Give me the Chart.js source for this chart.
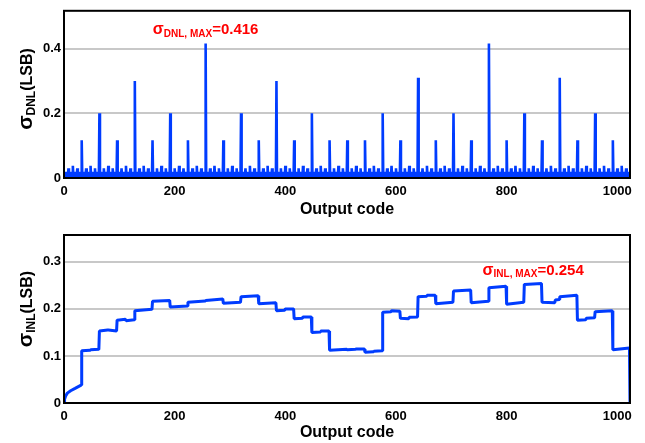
<!DOCTYPE html>
<html>
<head>
<meta charset="utf-8">
<script src="https://cdn.jsdelivr.net/npm/chart.js@4"></script>
<style>
    body { margin: 0; background: #fff; }
    canvas { position: absolute; left: 0; }
</style>
</head>
<body>
<canvas id="dnlChart" width="645" height="220" style="top:0;"></canvas>
<canvas id="inlChart" width="645" height="223" style="top:220px;"></canvas>
<script>
// ---- data ----
const codeTicks = [0, 200, 400, 600, 800, 1000];
const dnlTicks = [0, 0.2, 0.4];
const inlTicks = [0, 0.1, 0.2, 0.3];

// DNL inside one 32-code cell (offset 0 = cell boundary, taken from dnlSpikes)
const dnlCellPattern = [0.004, 0.004, 0.011, 0.004, 0.019, 0.004, 0.011, 0.004,
                        0.030, 0.004, 0.011, 0.004, 0.019, 0.004, 0.011, 0.004,
                        0.038, 0.004, 0.011, 0.004, 0.019, 0.004, 0.011, 0.004,
                        0.030, 0.004, 0.011, 0.004, 0.019, 0.004, 0.011, 0.004];
const dnlSpikeCodes = [32, 64, 96, 128, 160, 192, 224, 256, 288, 320, 352, 384, 416, 448, 480, 512,
                       544, 576, 608, 640, 672, 704, 736, 768, 800, 832, 864, 896, 928, 960, 992];
const dnlSpikeValues = [0.117, 0.200, 0.117, 0.300, 0.117, 0.200, 0.117, 0.416, 0.117, 0.200, 0.117, 0.300, 0.117, 0.200, 0.117, 0.117,
                        0.117, 0.200, 0.117, 0.310, 0.117, 0.200, 0.117, 0.416, 0.117, 0.200, 0.117, 0.310, 0.117, 0.200, 0.117];
const dnlMax = { code: 256, value: 0.416 };

// INL step curve, corner points
const inlCodes = [0, 1, 3, 6, 12, 20, 31, 32, 47, 48, 63, 64, 79, 80, 95, 96, 111, 112, 127,
                  128, 159, 160, 191, 192, 223, 224, 255, 256, 287, 288, 319, 320, 351, 352, 383,
                  384, 399, 400, 415, 416, 431, 432, 447, 448, 463, 464, 479, 480, 511,
                  512, 527, 528, 543, 544, 559, 560, 575, 576, 591, 592, 607, 608, 623, 624, 639,
                  640, 655, 656, 671, 672, 703, 704, 735, 736, 767, 768, 799, 800, 831,
                  832, 863, 864, 887, 888, 895, 896, 927, 928, 943, 944, 959, 960, 991, 992, 1022, 1023];
const inlValues = [0, 0.008, 0.015, 0.021, 0.026, 0.031, 0.038, 0.111, 0.112, 0.113, 0.114, 0.153, 0.155, 0.155, 0.153, 0.176, 0.178, 0.175, 0.177,
                   0.196, 0.199, 0.216, 0.218, 0.204, 0.206, 0.214, 0.217, 0.218, 0.221, 0.212, 0.214, 0.226, 0.228, 0.211, 0.213,
                   0.196, 0.197, 0.200, 0.200, 0.179, 0.180, 0.183, 0.183, 0.150, 0.151, 0.153, 0.153, 0.112, 0.114,
                   0.113, 0.114, 0.115, 0.115, 0.108, 0.109, 0.110, 0.111, 0.193, 0.194, 0.196, 0.195, 0.180, 0.179, 0.182, 0.183,
                   0.226, 0.227, 0.229, 0.229, 0.211, 0.214, 0.238, 0.240, 0.213, 0.216, 0.245, 0.248, 0.210, 0.214,
                   0.252, 0.254, 0.214, 0.213, 0.219, 0.220, 0.226, 0.229, 0.176, 0.177, 0.180, 0.181, 0.194, 0.196, 0.113, 0.117, 0];
const inlMax = { code: 848, value: 0.254 };

const FONT = '"Liberation Sans", Arial, sans-serif';
const BLUE = '#003cff';
const RED = '#ff0000';

// DNL points for every code
const dnlPoints = [];
for (let c = 0; c < 1024; c++) {
    const i = dnlSpikeCodes.indexOf(c);
    dnlPoints.push({ x: c, y: i >= 0 ? dnlSpikeValues[i] : dnlCellPattern[c % 32] });
}
const inlPoints = inlCodes.map((c, i) => ({ x: c, y: inlValues[i] }));

// text with subscript parts, centred on x, y = baseline
function drawRich(ctx, parts, x, y, color) {
    ctx.save();
    ctx.fillStyle = color;
    ctx.textAlign = 'left';
    ctx.textBaseline = 'alphabetic';
    let total = 0;
    parts.forEach(p => { ctx.font = `bold ${p.size}px ${FONT}`; total += ctx.measureText(p.t).width; });
    let cx = x - total / 2;
    parts.forEach(p => {
        ctx.font = `bold ${p.size}px ${FONT}`;
        ctx.fillText(p.t, cx, y + (p.dy || 0));
        cx += ctx.measureText(p.t).width;
    });
    ctx.restore();
}

function panelPlugin(yTitle, yTitleCenter, maxLabel, maxPoint, maxOffset) {
    return {
        id: 'panel',
        afterDraw(chart) {
            const ctx = chart.ctx;
            const a = chart.chartArea;
            // frame
            ctx.save();
            ctx.strokeStyle = '#000';
            ctx.lineWidth = 2;
            ctx.strokeRect(a.left, a.top, a.right - a.left, a.bottom - a.top);
            ctx.restore();
            // rotated y title
            ctx.save();
            ctx.translate(32, yTitleCenter);
            ctx.rotate(-Math.PI / 2);
            drawRich(ctx, yTitle, 0, 0, '#000');
            ctx.restore();
            // max annotation
            const px = chart.scales.x.getPixelForValue(maxPoint.code);
            const py = chart.scales.y.getPixelForValue(maxPoint.value);
            drawRich(ctx, maxLabel, px, py + maxOffset, RED);
        }
    };
}

function makeChart(id, points, width, yMax, yTicks, pad, xHeight, plugin) {
    const tickFont = { family: FONT, size: 13, weight: 'bold' };
    return new Chart(document.getElementById(id), {
        type: 'line',
        data: {
            datasets: [{
                data: points,
                borderColor: BLUE,
                borderWidth: width,
                borderJoinStyle: 'bevel',
                pointRadius: 0,
                tension: 0
            }]
        },
        options: {
            responsive: false,
            animation: false,
            parsing: false,
            events: [],
            layout: { padding: pad },
            plugins: { legend: { display: false }, tooltip: { enabled: false } },
            scales: {
                x: {
                    type: 'linear', min: 0, max: 1023,
                    afterBuildTicks: s => { s.ticks = codeTicks.map(v => ({ value: v })); },
                    afterFit: s => { s.height = xHeight; },
                    grid: { display: false },
                    border: { display: false },
                    ticks: { color: '#000', font: tickFont, padding: -2, maxRotation: 0, autoSkip: false, callback: v => String(v) },
                    title: {
                        display: true, text: 'Output code', color: '#000',
                        font: { family: FONT, size: 16, weight: 'bold' },
                        padding: { top: 0, bottom: 1 }
                    }
                },
                y: {
                    type: 'linear', min: 0, max: yMax,
                    afterBuildTicks: s => { s.ticks = yTicks.map(v => ({ value: v })); },
                    afterFit: s => { s.width = 64; },
                    grid: { color: '#c8c8c8', lineWidth: 2, drawTicks: false },
                    border: { display: false },
                    ticks: { color: '#000', font: tickFont, padding: 3, callback: v => v === 0 ? '0' : v.toFixed(1) }
                }
            }
        },
        plugins: [plugin]
    });
}

makeChart('dnlChart', dnlPoints, 2.6, 0.517, dnlTicks, { left: 0, right: 15, top: 10, bottom: 0 }, 42,
    panelPlugin(
        [{ t: 'σ', size: 21 }, { t: 'DNL', size: 12, dy: 3 }, { t: '(LSB)', size: 16 }], 89,
        [{ t: 'σ', size: 16 }, { t: 'DNL, MAX', size: 10, dy: 2.5 }, { t: '=0.416', size: 15 }], dnlMax, -9));

makeChart('inlChart', inlPoints, 3, 0.357, inlTicks, { left: 0, right: 15, top: 15, bottom: 0 }, 40,
    panelPlugin(
        [{ t: 'σ', size: 21 }, { t: 'INL', size: 12, dy: 3 }, { t: '(LSB)', size: 16 }], 89,
        [{ t: 'σ', size: 16 }, { t: 'INL, MAX', size: 10, dy: 2.5 }, { t: '=0.254', size: 15 }], inlMax, -8.5));
</script>
</body>
</html>
